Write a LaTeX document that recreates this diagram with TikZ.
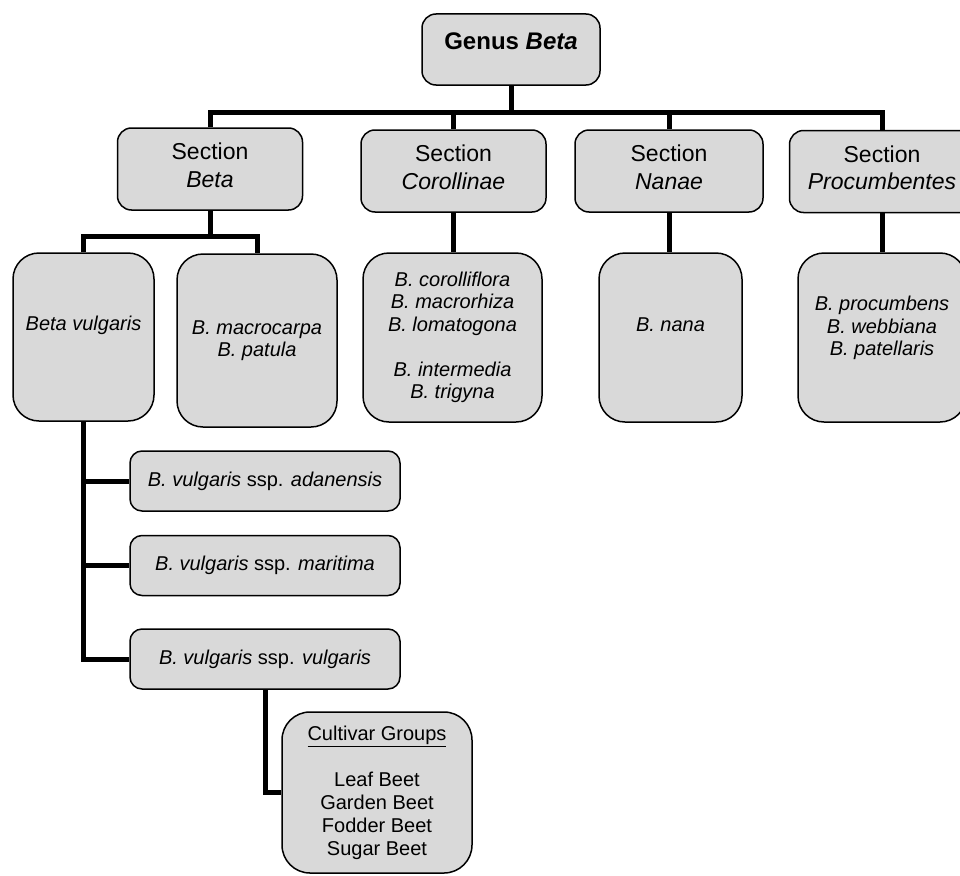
\documentclass[tikz,border=0pt]{standalone}
\usepackage{fontspec}
\setmainfont{Liberation Sans}
\usepackage{tikz}
\definecolor{boxgray}{RGB}{217,217,217}

\begin{document}
\begin{tikzpicture}[x=1pt, y=-1pt,
    box/.style={rectangle, draw, line width=1.5pt, fill=boxgray, rounded corners=14pt, align=center, inner sep=0pt},
    secbox/.style={box, minimum width=185pt, minimum height=82pt, text height=44.5pt, text depth=8pt, font=\fontsize{23}{27.5}\selectfont},
    spbox/.style={box, rounded corners=26pt, font=\fontsize{20}{22.5}\selectfont\itshape},
    sspbox/.style={box, rounded corners=12pt, minimum width=270pt, minimum height=60pt, font=\fontsize{20}{24}\selectfont},
    link/.style={line width=5pt}]
    \useasboundingbox (0,0) rectangle (960,875);
    \clip (0,0) rectangle (960,875);

    % Genus
    \node[box, minimum width=178pt, minimum height=71pt, text height=18pt, text depth=19pt, font=\fontsize{24}{28}\selectfont\bfseries] (genus) at (511,49.5) {Genus \textit{Beta}};

    % Sections
    \node[secbox] (secbeta) at (210,169) {Section\\\textit{Beta}};
    \node[secbox] (seccor) at (453.5,171) {Section\\\textit{Corollinae}};
    \node[secbox, minimum width=188pt] (secnan) at (669,171) {Section\\\textit{Nanae}};
    \node[secbox] (secpro) at (882,171.5) {Section\\\textit{Procumbentes}};

    % Species
    \node[spbox, minimum width=141pt, minimum height=168pt, text height=15pt, text depth=28pt] (bvul) at (83.5,337) {Beta vulgaris};
    \node[spbox, minimum width=160pt, minimum height=173pt] (bmac) at (257,340.5) {B. macrocarpa\\B. patula};
    \node[spbox, minimum width=179pt, minimum height=169pt] (bcor) at (452.5,337.5) {B. corolliflora\\B. macrorhiza\\B. lomatogona\\[22.5pt]B. intermedia\\B. trigyna};
    \node[spbox, minimum width=143pt, minimum height=169pt, text height=15pt, text depth=28pt] (bnan) at (670.5,337.5) {B. nana};
    \node[spbox, minimum width=168pt, minimum height=169pt, text height=60pt, text depth=24pt] (bpro) at (882,337.5) {B. procumbens\\B. webbiana\\B. patellaris};

    % Subspecies
    \node[sspbox] (adan) at (265,481) {\textit{B. vulgaris} ssp. \textit{adanensis}};
    \node[sspbox] (mar) at (265,565.5) {\textit{B. vulgaris} ssp. \textit{maritima}};
    \node[sspbox] (vul) at (265,659) {\textit{B. vulgaris} ssp. \textit{vulgaris}};

    % Cultivar groups
    \node[box, rounded corners=28pt, minimum width=190pt, minimum height=161pt, font=\fontsize{20}{23}\selectfont] (cult) at (377,792.5) {\underline{Cultivar Groups}\\[23pt]Leaf Beet\\Garden Beet\\Fodder Beet\\Sugar Beet};

    % Links
    \coordinate (bus) at (511,112);
    \coordinate (split) at (210,236);
    \draw[link] (secbeta.north) |- (bus) -| (secpro.north);
    \draw[link] (genus.south) -- (genus.south |- bus);
    \draw[link] (seccor.north) -- (seccor.north |- bus);
    \draw[link] (secnan.north) -- (secnan.north |- bus);
    \draw[link] (secbeta.south) -- (split);
    \draw[link] (bvul.north) |- (split) -| (bmac.north);
    \draw[link] (seccor.south) -- (seccor.south |- bcor.north);
    \draw[link] (secnan.south) -- (secnan.south |- bnan.north);
    \draw[link] (secpro.south) -- (bpro.north);
    \draw[link] (bvul.south) |- (vul.west);
    \draw[link] (bvul.south |- adan.west) -- (adan.west);
    \draw[link] (bvul.south |- mar.west) -- (mar.west);
    \draw[link] (vul.south) |- (cult.west);
\end{tikzpicture}
\end{document}
